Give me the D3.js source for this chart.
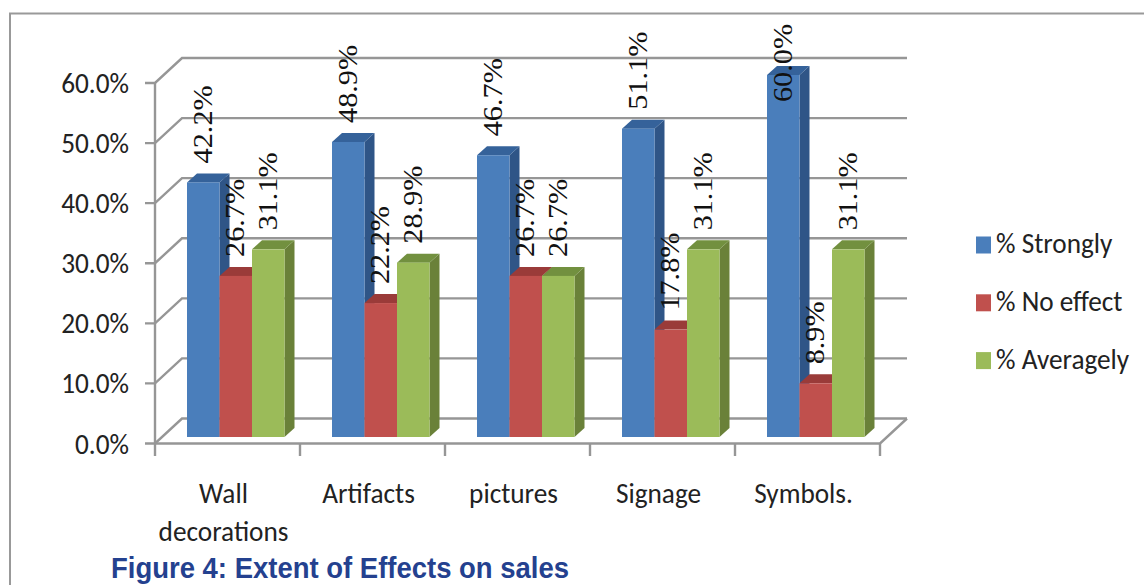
<!DOCTYPE html>
<html>
<head>
<meta charset="utf-8">
<script src="https://cdn.jsdelivr.net/npm/d3@7"></script>
<style>
  html, body { margin: 0; padding: 0; background: #fff; }
  svg { display: block; }
</style>
</head>
<body>
<svg id="chart" width="1144" height="585"></svg>
<script>
const categories = [["Wall", "decorations"], ["Artifacts"], ["pictures"], ["Signage"], ["Symbols."]];
const seriesNames = ["% Strongly", "% No effect", "% Averagely"];
const strongly = [42.2, 48.9, 46.7, 51.1, 60.0];
const noEffect = [26.7, 22.2, 26.7, 17.8, 8.9];
const averagely = [31.1, 28.9, 26.7, 31.1, 31.1];
const yTicks = [0, 10, 20, 30, 40, 50, 60];
const figureTitle = "Figure 4: Extent of Effects on sales";

const faceColors = ["#4a7ebb", "#c0504d", "#9bbb59"];
const sideColors = ["#2f5587", "#8c3836", "#6a8139"];
const topColors = ["#35629a", "#9a3b39", "#72903f"];
const seriesValues = [strongly, noEffect, averagely];

const svg = d3.select("#chart");
const labelFont = "Carlito, 'Open Sans', 'Noto Sans', sans-serif";
const labelSize = 29, labelSqueeze = 0.94;

// Draws a horizontally squeezed sans label at an anchor point
function sansLabel(px, py, anchor, str) {
  svg.append("text")
    .attr("transform", `translate(${px},${py}) scale(${labelSqueeze},1)`)
    .attr("text-anchor", anchor)
    .attr("font-family", labelFont).attr("font-size", labelSize)
    .attr("fill", "#222")
    .text(str);
}

// Outer frame around the chart
svg.append("path")
  .attr("d", "M10,585V13.5H1144")
  .attr("fill", "none").attr("stroke", "#999").attr("stroke-width", 2);

// Floor and wall projection of the 3-D plot box
const wallDx = 27, wallDy = -25;
const x = d3.scaleBand().domain(d3.range(categories.length)).range([155, 880]);
const yFront = d3.scaleLinear().domain([0, 60]).range([443.5, 83]);
const yBar = d3.scaleLinear().domain([0, 60]).range([437, 75]);

const grid = svg.append("g").attr("stroke", "#969696").attr("stroke-width", 2.4).attr("fill", "none");
yTicks.forEach(t => {
  const y = yFront(t);
  grid.append("path").attr("d", `M${x.range()[0] - 10},${y}H${x.range()[0]}L${x.range()[0] + wallDx},${y + wallDy}H${x.range()[1] + wallDx}`);
});
grid.append("path").attr("d", `M155,${yFront(60)}V456`);
grid.append("path").attr("d", `M155,443.5H880L${880 + wallDx},${443.5 + wallDy}`);
d3.range(1, categories.length + 1).forEach(i => {
  const px = x.range()[0] + i * x.step();
  grid.append("path").attr("d", `M${px},443.5V456`);
});

// Bars with a lit front, a shaded side and a top face
const barW = 32.5, depthX = 10, depthY = 9, barStart = 32;
const bars = svg.append("g");
categories.forEach((_, ci) => {
  seriesValues.forEach((vals, si) => {
    const x0 = x(ci) + barStart + si * barW;
    const x1 = x0 + barW;
    const yT = yBar(vals[ci]), yB = yBar(0);
    const g = bars.append("g");
    g.append("path").attr("fill", sideColors[si])
      .attr("d", `M${x1},${yT}L${x1 + depthX},${yT - depthY}V${yB - depthY}L${x1},${yB}Z`);
    g.append("path").attr("fill", topColors[si])
      .attr("d", `M${x0},${yT}L${x0 + depthX},${yT - depthY}H${x1 + depthX}L${x1},${yT}Z`);
    g.append("rect").attr("x", x0).attr("y", yT).attr("width", barW).attr("height", yB - yT).attr("fill", faceColors[si]);
  });
});

// Rotated value labels above each bar; tall labels stop below the frame
const valueStretch = 1.12, valueLength = 79, topLimit = 23;
categories.forEach((_, ci) => {
  seriesValues.forEach((vals, si) => {
    const cx = x(ci) + barStart + si * barW + barW / 2;
    const y = Math.max(yBar(vals[ci]) - 19, topLimit + valueLength);
    svg.append("text")
      .attr("transform", `translate(${cx + 8.5},${y}) rotate(-90) scale(${valueStretch},1)`)
      .attr("font-family", "'Liberation Serif', serif")
      .attr("font-size", 27)
      .attr("fill", "#111")
      .text(vals[ci].toFixed(1) + "%");
  });
});

// Y-axis tick labels
yTicks.forEach(t => sansLabel(129, yFront(t) + 10, "end", t.toFixed(1) + "%"));

// Category labels
categories.forEach((lines, ci) => {
  lines.forEach((line, li) => {
    sansLabel(x(ci) + x.step() / 2 - 4, 503 + li * 38, "middle", line);
  });
});

// Legend
seriesNames.forEach((name, i) => {
  const y = 245 + i * 57.8;
  svg.append("rect").attr("x", 976).attr("y", y - 8.5).attr("width", 15).attr("height", 17).attr("fill", faceColors[i]);
  sansLabel(996, y + 8, "start", name);
});

// Figure caption
svg.append("text")
  .attr("x", 111).attr("y", 578)
  .attr("font-family", "'Liberation Sans', sans-serif")
  .attr("font-weight", "bold").attr("font-size", 29)
  .attr("textLength", 458).attr("lengthAdjust", "spacingAndGlyphs")
  .attr("fill", "#24418f")
  .text(figureTitle);
</script>
</body>
</html>
